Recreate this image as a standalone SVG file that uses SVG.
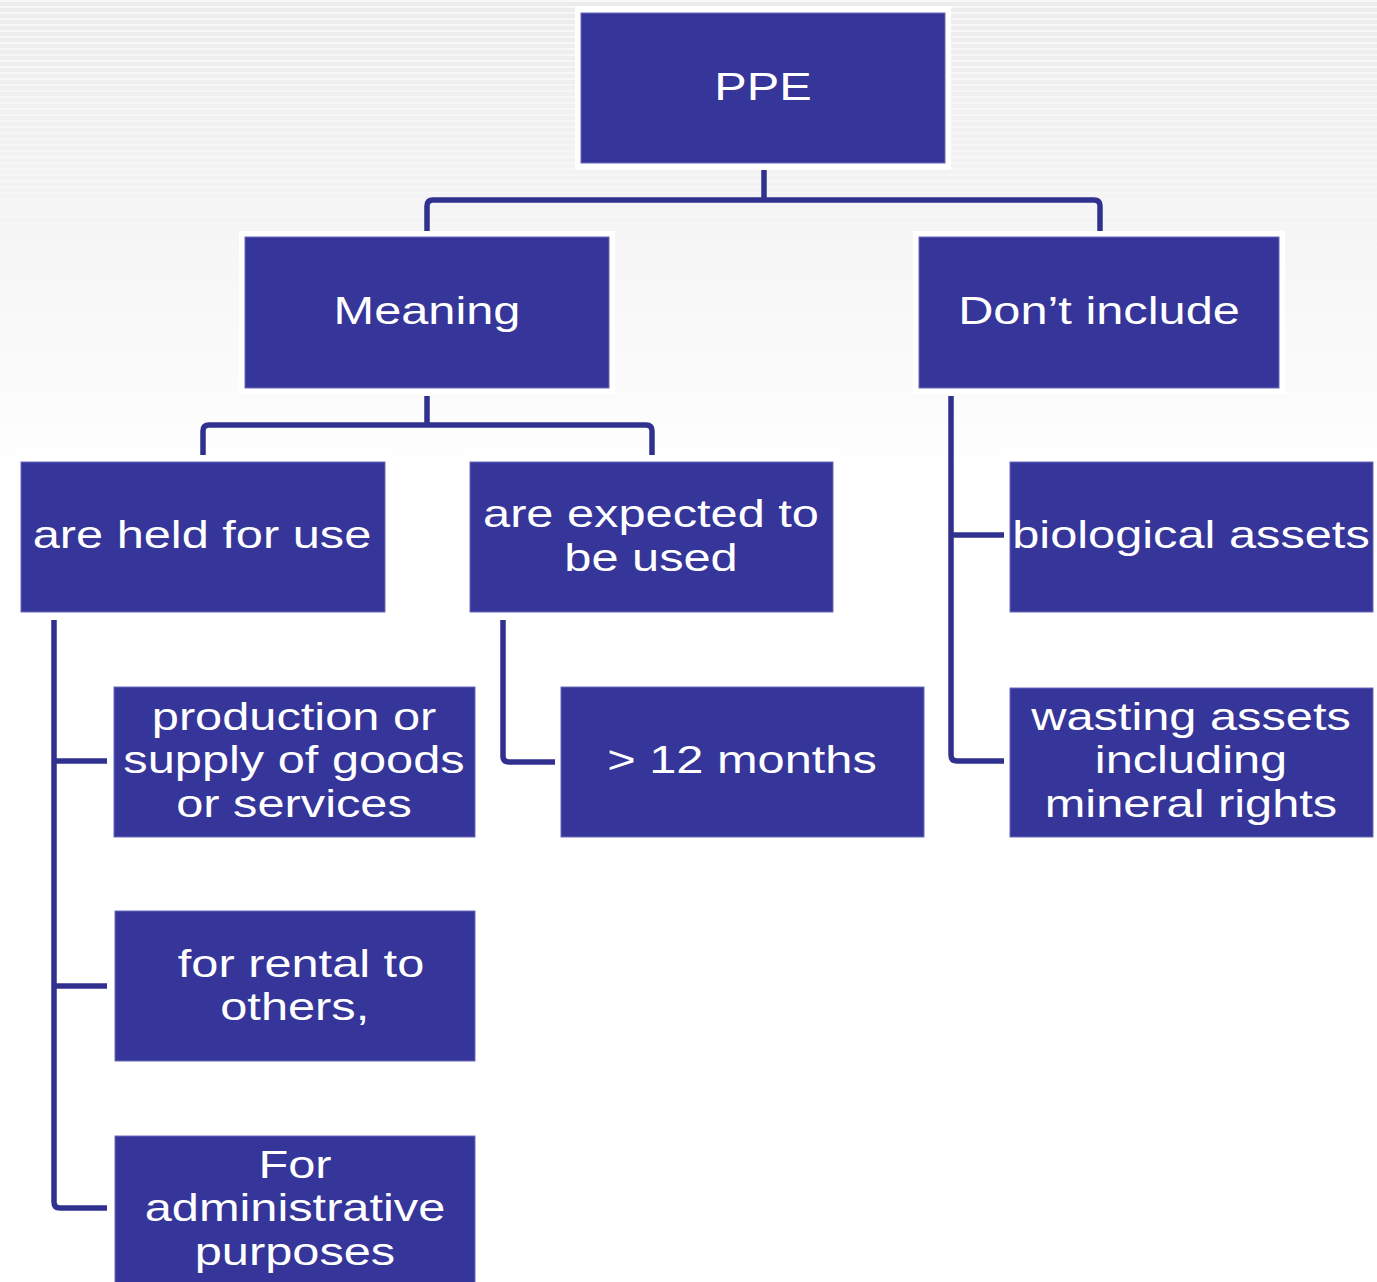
<svg xmlns="http://www.w3.org/2000/svg" width="1377" height="1282" viewBox="0 0 1377 1282">
  <defs>
    <linearGradient id="bgFade" x1="0" y1="0" x2="0" y2="1">
      <stop offset="0" stop-color="#ececec"/>
      <stop offset="1" stop-color="#ffffff"/>
    </linearGradient>
    <linearGradient id="stripeFade" x1="0" y1="0" x2="0" y2="1">
      <stop offset="0" stop-color="#fff" stop-opacity="1"/>
      <stop offset="1" stop-color="#fff" stop-opacity="0"/>
    </linearGradient>
    <pattern id="stripes" width="8" height="6" patternUnits="userSpaceOnUse">
      <rect width="8" height="2" fill="#f8f8f8"/>
    </pattern>
    <mask id="stripeMask">
      <rect x="0" y="0" width="1377" height="480" fill="url(#stripeFade)"/>
    </mask>
    <style>
      .halo { fill: #ffffff; }
      .box { fill: #35359a; stroke: #6b6bbb; stroke-width: 1; }
      .label { fill: #ffffff; font-family: "Liberation Sans", Arial, sans-serif; font-size: 39px; text-anchor: middle; }
      .link { fill: none; stroke: #30308e; stroke-width: 5.5; stroke-linejoin: round; stroke-linecap: butt; }
    </style>
  </defs>

  <!-- backdrop: grey striped band fading to white -->
  <rect width="1377" height="1282" fill="#ffffff"/>
  <rect x="0" y="0" width="1377" height="480" fill="url(#bgFade)"/>
  <rect x="0" y="0" width="1377" height="480" fill="url(#stripes)" mask="url(#stripeMask)"/>

  <!-- connectors -->
  <g id="connectors">
    <path class="link" d="M764 170 V200"/>
    <path class="link" d="M427 232 V206 Q427 200 433 200 H1094 Q1100 200 1100 206 V232"/>
    <path class="link" d="M427 396 V425"/>
    <path class="link" d="M203 456 V431 Q203 425 209 425 H646 Q652 425 652 431 V456"/>
    <path class="link" d="M951 396 V755 Q951 761 957 761 H1004"/>
    <path class="link" d="M951 535 H1004"/>
    <path class="link" d="M54 620 V1202 Q54 1208 60 1208 H107"/>
    <path class="link" d="M54 761 H107"/>
    <path class="link" d="M54 986 H107"/>
    <path class="link" d="M503 620 V756 Q503 762 509 762 H556"/>
  </g>

  <!-- nodes -->
  <g id="node-ppe">
    <rect class="halo" x="575" y="6" width="376" height="164"/>
    <rect class="box" x="581" y="13" width="364" height="150"/>
    <text class="label" transform="translate(763 100) scale(1.25 1)">PPE</text>
  </g>

  <g id="node-meaning">
    <rect class="halo" x="239" y="231" width="376" height="163"/>
    <rect class="box" x="245" y="237" width="364" height="151"/>
    <text class="label" transform="translate(427 324) scale(1.25 1)">Meaning</text>
  </g>

  <g id="node-dont-include">
    <rect class="halo" x="913" y="231" width="372" height="163"/>
    <rect class="box" x="919" y="237" width="360" height="151"/>
    <text class="label" transform="translate(1099 324) scale(1.25 1)">Don’t include</text>
  </g>

  <g id="node-held-for-use">
    <rect class="halo" x="15" y="455" width="376" height="163"/>
    <rect class="box" x="21" y="462" width="364" height="150"/>
    <text class="label" transform="translate(202 548) scale(1.25 1)">are held for use</text>
  </g>

  <g id="node-expected-use">
    <rect class="halo" x="464" y="455" width="375" height="163"/>
    <rect class="box" x="470" y="462" width="363" height="150"/>
    <text class="label" transform="translate(651 527) scale(1.25 1)"><tspan x="0" y="0">are expected to</tspan><tspan x="0" y="44">be used</tspan></text>
  </g>

  <g id="node-biological">
    <rect class="halo" x="1004" y="455" width="373" height="163"/>
    <rect class="box" x="1010" y="462" width="363" height="150"/>
    <text class="label" transform="translate(1191 548) scale(1.25 1)">biological assets</text>
  </g>

  <g id="node-production">
    <rect class="halo" x="108" y="681" width="373" height="162"/>
    <rect class="box" x="114" y="687" width="361" height="150"/>
    <text class="label" transform="translate(294 730) scale(1.25 1)"><tspan x="0" y="0">production or</tspan><tspan x="0" y="43">supply of goods</tspan><tspan x="0" y="87">or services</tspan></text>
  </g>

  <g id="node-twelve-months">
    <rect class="halo" x="555" y="681" width="375" height="162"/>
    <rect class="box" x="561" y="687" width="363" height="150"/>
    <text class="label" transform="translate(742 773) scale(1.25 1)">&gt; 12 months</text>
  </g>

  <g id="node-wasting">
    <rect class="halo" x="1004" y="681" width="373" height="162"/>
    <rect class="box" x="1010" y="688" width="363" height="149"/>
    <text class="label" transform="translate(1191 730) scale(1.25 1)"><tspan x="0" y="0">wasting assets</tspan><tspan x="0" y="43">including</tspan><tspan x="0" y="87">mineral rights</tspan></text>
  </g>

  <g id="node-rental">
    <rect class="halo" x="109" y="905" width="372" height="162"/>
    <rect class="box" x="115" y="911" width="360" height="150"/>
    <text class="label" transform="translate(301 977) scale(1.25 1)"><tspan x="0" y="0">for rental to</tspan><tspan x="-5" y="43">others,</tspan></text>
  </g>

  <g id="node-administrative">
    <rect class="halo" x="109" y="1130" width="372" height="162"/>
    <rect class="box" x="115" y="1136" width="360" height="150"/>
    <text class="label" transform="translate(295 1178) scale(1.25 1)"><tspan x="0" y="0">For</tspan><tspan x="0" y="43">administrative</tspan><tspan x="0" y="87">purposes</tspan></text>
  </g>
</svg>
